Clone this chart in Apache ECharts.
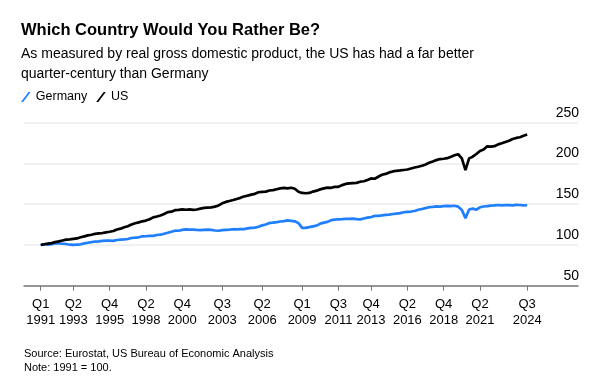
<!DOCTYPE html>
<html>
<head>
<meta charset="utf-8">
<script src="https://cdn.jsdelivr.net/npm/echarts@6/dist/echarts.min.js"></script>
<style>
html,body{margin:0;padding:0;background:#fff;}
#chart{width:600px;height:383px;}
</style>
</head>
<body>
<div id="chart"></div>
<script>
// ---- data (quarterly, Q1 1991 .. Q3 2024, 1991 = 100) ----
const firstYear = 1991;
const tickQuarters = ['Q1 1991','Q2 1993','Q4 1995','Q2 1998','Q4 2000','Q3 2003','Q2 2006','Q1 2009','Q3 2011','Q4 2013','Q2 2016','Q4 2018','Q2 2021','Q3 2024'];
const yTicks = [50, 100, 150, 200, 250];
const seriesNames = ['Germany', 'US'];

const germany = [
  100.0, 100.9, 100.5, 100.9,
  102.1, 101.8, 101.5, 101.2,
  100.3, 100.0, 100.5, 100.8,
  101.9, 102.7, 103.4, 104.2,
  104.3, 104.9, 105.2, 105.2,
  105.0, 106.1, 106.6, 106.9,
  107.3, 108.5, 108.9, 109.4,
  110.6, 110.7, 111.2, 111.1,
  112.2, 112.6, 113.8, 115.0,
  116.2, 117.5, 117.4, 118.5,
  119.0, 118.9, 118.8, 118.5,
  118.3, 118.6, 118.9, 118.5,
  117.7, 117.4, 118.1, 118.6,
  118.8, 119.3, 119.2, 119.4,
  119.5, 120.3, 120.9, 121.3,
  122.4, 124.0, 125.1, 126.8,
  127.5, 128.0, 128.8, 129.2,
  130.2, 129.6, 129.0, 126.8,
  121.0, 120.9, 121.8, 122.8,
  123.7, 126.2, 127.4, 128.3,
  130.4, 131.0, 131.5, 131.6,
  132.0, 132.0, 132.3, 131.7,
  131.4, 132.5, 133.6, 134.2,
  135.6, 135.7, 136.3, 137.0,
  137.3, 138.0, 138.5, 139.0,
  140.1, 140.6, 141.0, 141.7,
  143.2, 144.1, 145.2, 146.3,
  146.7, 147.4, 147.0, 147.6,
  148.0, 147.7, 148.1, 147.0,
  143.0, 132.8, 143.5, 144.6,
  143.2, 146.2, 147.2, 147.6,
  148.3, 148.5, 149.0, 148.6,
  148.8, 148.9, 148.6, 149.1,
  149.0, 148.6, 148.7
];

const us = [
  100.0, 100.9, 101.6, 102.3,
  103.4, 104.4, 105.5, 106.6,
  106.8, 107.4, 108.0, 109.4,
  110.5, 111.8, 112.5, 113.7,
  114.2, 114.6, 115.5, 116.2,
  117.1, 119.0, 120.0, 121.8,
  123.0, 125.0, 126.6, 127.7,
  129.0, 129.9, 131.5, 133.8,
  134.9, 136.1, 137.9, 140.3,
  140.8, 142.7, 143.0, 143.6,
  143.2, 143.6, 143.1, 143.5,
  144.6, 145.4, 145.9, 146.2,
  147.0, 148.5, 151.1, 152.8,
  154.0, 155.1, 156.4, 157.8,
  159.5, 160.5, 161.8, 162.7,
  164.7, 165.2, 165.4, 166.8,
  167.2, 168.3, 169.4, 170.0,
  169.4, 170.2, 168.9, 165.3,
  163.8, 163.4, 163.8, 165.5,
  166.6, 168.2, 169.4, 170.4,
  170.1, 171.3, 171.3, 173.4,
  174.9, 175.6, 175.9, 176.2,
  177.6, 178.2, 179.8, 181.6,
  181.2, 183.7, 186.1, 187.2,
  189.0, 190.2, 191.0, 191.4,
  192.0, 192.6, 193.8, 195.0,
  196.0, 197.2, 198.8, 200.8,
  202.4, 204.1, 205.4, 205.8,
  206.5, 208.2, 210.0, 211.3,
  206.3, 191.8, 206.2, 208.3,
  211.6, 215.3, 217.0, 221.0,
  220.7, 221.2, 223.4, 224.8,
  226.4, 227.8, 229.9, 231.3,
  232.2, 233.9, 235.5
];

// ---- helpers ----
function quarterIndex(label) {
  const [q, y] = label.split(' ');
  return (parseInt(y, 10) - firstYear) * 4 + (parseInt(q.slice(1), 10) - 1);
}
const tickIdx = tickQuarters.map(quarterIndex);
const labelByIdx = {};
tickQuarters.forEach((t, i) => { labelByIdx[tickIdx[i]] = t.replace(' ', '\n'); });
const toPairs = arr => arr.map((v, i) => [i, v]);

const FONT = 'Liberation Sans, Arial, Helvetica, sans-serif';
const colors = ['#1f7fff', '#000000'];
const slash = 'path://M0,10 L7.5,0 L9.6,0 L2.1,10 Z';

const chart = echarts.init(document.getElementById('chart'), null, {renderer: 'canvas'});
chart.setOption({
  animation: false,
  backgroundColor: '#ffffff',
  textStyle: {fontFamily: FONT},
  title: [
    {
      text: 'Which Country Would You Rather Be?',
      left: 21, top: 22, padding: 0,
      textStyle: {fontFamily: FONT, fontSize: 16.5, fontWeight: 'bold', color: '#000'}
    },
    {
      text: 'As measured by real gross domestic product, the US has had a far better\nquarter-century than Germany',
      left: 21, top: 44.5, padding: 0,
      textStyle: {fontFamily: FONT, fontSize: 14, fontWeight: 'normal', color: '#000', lineHeight: 20}
    },
    {
      text: 'Source: Eurostat, US Bureau of Economic Analysis\nNote: 1991 = 100.',
      left: 24, top: 347.5, padding: 0,
      textStyle: {fontFamily: FONT, fontSize: 11, fontWeight: 'normal', color: '#000', lineHeight: 13.7}
    }
  ],
  legend: {
    left: 21, top: 90.5, padding: 0,
    itemGap: 9,
    itemWidth: 10, itemHeight: 10,
    icon: slash,
    textStyle: {fontFamily: FONT, fontSize: 12.5, color: '#000', padding: [0, 0, 0, 0]},
    data: seriesNames
  },
  grid: {left: 24, right: 22, top: 122.7, bottom: 97.3, containLabel: false},
  xAxis: {
    type: 'value',
    min: -4.6, max: 148,
    splitLine: {show: false},
    axisLine: {show: true, onZero: false, lineStyle: {color: '#777', width: 1.5}},
    axisTick: {show: true, customValues: tickIdx, length: 5, lineStyle: {color: '#777', width: 1}},
    axisLabel: {
      customValues: tickIdx,
      formatter: v => labelByIdx[v] || '',
      fontFamily: FONT, fontSize: 13, color: '#000', lineHeight: 16, margin: 11
    }
  },
  yAxis: {
    type: 'value',
    position: 'right',
    min: yTicks[0], max: yTicks[yTicks.length - 1], interval: 50,
    axisLine: {show: false},
    axisTick: {show: false},
    splitLine: {show: true, lineStyle: {color: '#ececec', width: 1.5}},
    axisLabel: {
      inside: true, margin: -1,
      verticalAlign: 'bottom', padding: [0, 0, 3, 0],
      fontFamily: FONT, fontSize: 14, color: '#000'
    }
  },
  series: [
    {
      name: seriesNames[0], type: 'line', data: toPairs(germany),
      showSymbol: false, symbol: 'none',
      lineStyle: {color: colors[0], width: 2.7},
      itemStyle: {color: colors[0]}, z: 3
    },
    {
      name: seriesNames[1], type: 'line', data: toPairs(us),
      showSymbol: false, symbol: 'none',
      lineStyle: {color: colors[1], width: 2.7},
      itemStyle: {color: colors[1]}, z: 4
    }
  ]
});
</script>
</body>
</html>
